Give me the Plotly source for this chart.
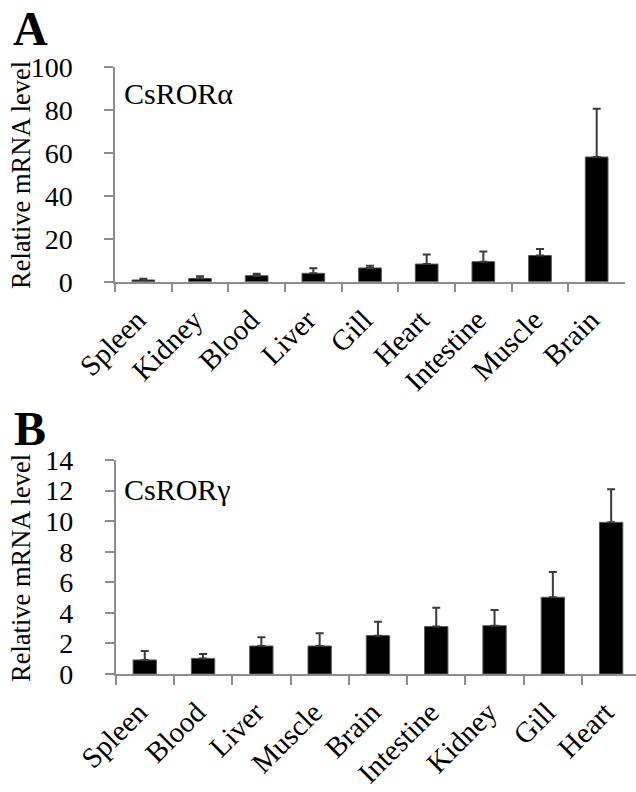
import plotly.graph_objects as go

W, H = 636, 792

cats_a = ["Spleen", "Kidney", "Blood", "Liver", "Gill", "Heart", "Intestine", "Muscle", "Brain"]
vals_a = [0.8, 1.5, 2.8, 3.9, 6.4, 8.2, 9.3, 12.2, 58.0]
err_a = [0.6, 1.0, 0.9, 2.3, 1.0, 4.5, 4.7, 3.0, 22.5]

cats_b = ["Spleen", "Blood", "Liver", "Muscle", "Brain", "Intestine", "Kidney", "Gill", "Heart"]
vals_b = [0.92, 1.02, 1.83, 1.83, 2.51, 3.10, 3.16, 5.02, 9.92]
err_b = [0.58, 0.29, 0.57, 0.83, 0.91, 1.24, 1.03, 1.65, 2.16]

yticks_a = [0, 20, 40, 60, 80, 100]
yticks_b = [0, 2, 4, 6, 8, 10, 12, 14]

FONT = "Liberation Serif, Times New Roman, serif"
AXC = "#8c8c8c"

def px_x(p):
    return p / W

def px_y(p):
    return 1 - p / H

fig = go.Figure()

for cats, vals, errs, xa, ya in [(cats_a, vals_a, err_a, "x", "y"), (cats_b, vals_b, err_b, "x2", "y2")]:
    fig.add_trace(go.Bar(
        x=cats, y=vals, width=0.4, xaxis=xa, yaxis=ya,
        marker=dict(color="black", line=dict(color="#555555", width=1)),
        error_y=dict(type="data", array=errs, symmetric=False, arrayminus=[0]*len(errs),
                     color="#3a3a3a", thickness=2, width=4),
        showlegend=False,
    ))

common_x = dict(type="category", showline=True, linecolor=AXC, linewidth=1.5,
                ticks="outside", tickson="boundaries", ticklen=9, tickcolor=AXC, tickwidth=1.5,
                tickangle=-45, tickfont=dict(family=FONT, size=29, color="black"),
                ticklabelstandoff=8, ticklabelshift=-6,
                showgrid=False, zeroline=False, fixedrange=True, automargin=False)
common_y = dict(showline=True, linecolor=AXC, linewidth=1.5, ticks="outside", ticklen=9,
                tickcolor=AXC, tickwidth=1.5, tickfont=dict(family=FONT, size=28, color="black"),
                showgrid=False, zeroline=False, ticklabelstandoff=26, automargin=False,
                fixedrange=True)

span_b = (W - 115.6) / 58.3
fig.update_layout(
    width=W, height=H, margin=dict(l=0, r=0, t=0, b=0, autoexpand=False),
    paper_bgcolor="white", plot_bgcolor="white",
    xaxis=dict(common_x, domain=[px_x(115), px_x(625)], anchor="y", range=[-0.5, 8.5]),
    yaxis=dict(common_y, domain=[px_y(281.7), px_y(66.7)], anchor="x", range=[0, 100],
               tickvals=yticks_a),
    xaxis2=dict(common_x, domain=[px_x(115.6), 1.0], anchor="y2", range=[-0.5, -0.5 + span_b]),
    yaxis2=dict(common_y, domain=[px_y(674), px_y(460)], anchor="x2", range=[0, 14],
                tickvals=yticks_b),
)

ann = []
ann.append(dict(text="<b>A</b>", x=px_x(11), y=px_y(28.5), xref="paper", yref="paper",
                xanchor="left", yanchor="middle", showarrow=False,
                font=dict(family=FONT, size=48, color="black")))
ann.append(dict(text="<b>B</b>", x=px_x(12), y=px_y(429), xref="paper", yref="paper",
                xanchor="left", yanchor="middle", showarrow=False,
                font=dict(family=FONT, size=48, color="black")))
ann.append(dict(text="CsRORα", x=px_x(122), y=px_y(93), xref="paper", yref="paper",
                xanchor="left", yanchor="middle", showarrow=False,
                font=dict(family=FONT, size=30, color="black")))
ann.append(dict(text="CsRORγ", x=px_x(122), y=px_y(489), xref="paper", yref="paper",
                xanchor="left", yanchor="middle", showarrow=False,
                font=dict(family=FONT, size=30, color="black")))
for yc in [175, 568]:
    ann.append(dict(text="Relative mRNA level", x=px_x(21), y=px_y(yc), xref="paper", yref="paper",
                    xanchor="center", yanchor="middle", textangle=-90, showarrow=False,
                    font=dict(family=FONT, size=26.5, color="black")))
fig.update_layout(annotations=ann)

fig.write_html("out.html", post_script="document.body.style.margin='0';",
               config={"displayModeBar": False})
